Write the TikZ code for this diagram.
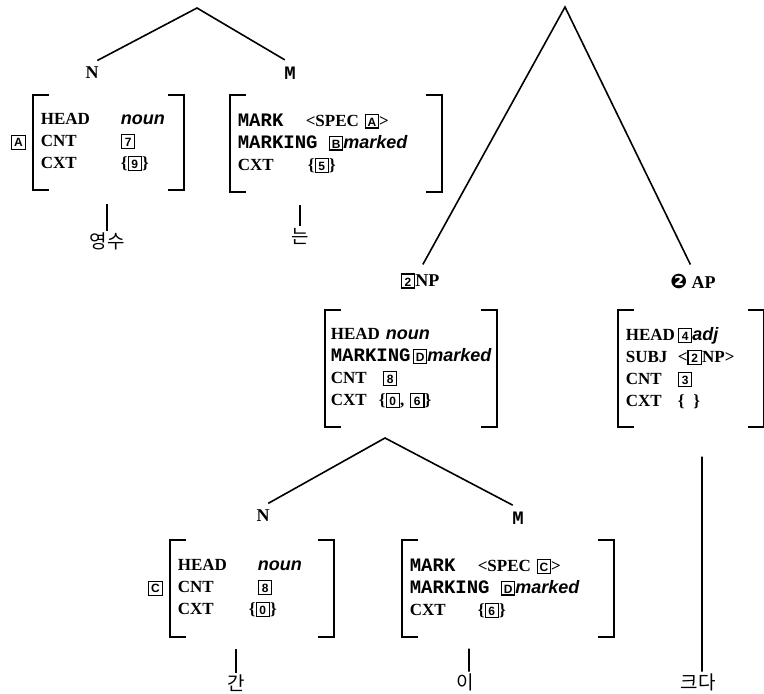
\documentclass[tikz,border=0pt]{standalone}
\usepackage{fontspec}
\setmainfont{Liberation Serif}
\newfontfamily\monof{Liberation Mono}
\newfontfamily\sansf{Liberation Sans}
\newfontfamily\kor{Noto Sans CJK KR}
\newfontfamily\dejavu{DejaVu Sans}
\usetikzlibrary{calc,positioning}

\newcommand{\tg}[1]{{\setlength{\fboxsep}{1bp}\setlength{\fboxrule}{1.3bp}\fbox{\sansf\bfseries\fontsize{12bp}{12bp}\selectfont\makebox[10bp]{\rule{0pt}{10.5bp}#1}}}}
\newcommand{\val}[1]{{\sansf\bfseries\itshape\fontsize{18bp}{22bp}\selectfont #1}}
\newcommand{\mk}[1]{{\monof\bfseries\fontsize{19bp}{22bp}\selectfont #1}}
\newcommand{\feat}[2]{\makebox[#1][l]{#2}}
\newcommand{\avmbrackets}[1]{%
	\draw[brk] ([xshift=16bp]#1.north west) -- (#1.north west) -- (#1.south west) -- ([xshift=16bp]#1.south west);
	\draw[brk] ([xshift=-16bp]#1.north east) -- (#1.north east) -- (#1.south east) -- ([xshift=-16bp]#1.south east);}

\begin{document}
\begin{tikzpicture}[x=1bp,y=-1bp,line width=1.6bp,
	avm/.style={anchor=north west,inner xsep=7bp,inner ysep=0pt,align=left,font=\bfseries\fontsize{17bp}{22bp}\selectfont},
	brk/.style={line width=1.8bp},
	lbl/.style={inner sep=3bp,font=\bfseries\fontsize{18bp}{18bp}\selectfont},
	word/.style={inner sep=1bp,font=\kor\fontsize{19bp}{19bp}\selectfont},
	tagbox/.style={draw,line width=1.3bp,inner sep=1bp,minimum size=14bp,font=\sansf\bfseries\fontsize{12bp}{12bp}\selectfont}
	]
	\useasboundingbox (0,0) rectangle (764,694);

	% 영수는
	\coordinate (top1) at (197,8);
	\node[lbl] (n1) at (92,73) {N};
	\node[lbl] (m1) at (290,73) {\mk{M}};
	\draw[shorten <=6bp,shorten >=6bp] (n1.north) -- (top1) -- (m1.north);

	\node[avm,text width=135bp,minimum height=93bp] (avmA) at (33,95) {\feat{80bp}{HEAD}\val{noun}\\\feat{80bp}{CNT}\tg{7}\\\feat{80bp}{CXT}\{\tg{9}\}};
	\avmbrackets{avmA}
	\node[tagbox,left=7bp of avmA] (tagA) {A};
	\node[avm,text width=196bp,minimum height=95bp] (avmB) at (230,95) {\feat{68bp}{\mk{MARK}}<SPEC \tg{A}>\\\feat{91bp}{\mk{MARKING}}\tg{B}\val{marked}\\\feat{70bp}{CXT}\{\tg{5}\}};
	\avmbrackets{avmB}

	\node[word] (w1) at (107,241) {영수};
	\node[word] (w2) at (300,236) {는};
	\draw (w1.north) -- ($(avmA.south -| w1.north)+(0,14)$);
	\draw (w2.north) -- ($(avmB.south -| w2.north)+(0,13)$);

	% 간이 크다
	\coordinate (top2) at (565,7);
	\node[lbl] (np) at (420,281) {\tg{2}NP};
	\node[lbl] (ap) at (693,281) {{\dejavu\fontsize{20bp}{20bp}\selectfont ❷} AP};
	\draw[shorten <=6bp,shorten >=6bp] (np.north) -- (top2) -- (ap.north);

	\node[avm,inner xsep=5bp,text width=160bp,minimum height=115bp] (avmNP) at (325,310) {\feat{55bp}{HEAD}\val{noun}\\\feat{82bp}{\mk{MARKING}}\tg{D}\val{marked}\\\feat{52bp}{CNT}\tg{8}\\\feat{48bp}{CXT}\{\tg{0}, \tg{6}\}};
	\avmbrackets{avmNP}
	\node[avm,text width=130bp,minimum height=115bp] (avmAP) at (618,310) {\feat{52bp}{HEAD}\tg{4}\val{adj}\\\feat{52bp}{SUBJ}<\tg{2}NP>\\\feat{52bp}{CNT}\tg{3}\\\feat{52bp}{CXT}\{\hspace{9bp}\}};
	\avmbrackets{avmAP}

	\coordinate (top3) at (385,438);
	\node[lbl] (n2) at (263,516) {N};
	\node[lbl] (m2) at (518,518) {\mk{M}};
	\draw[shorten <=6bp,shorten >=6bp] (n2.north) -- (top3) -- (m2.north);

	\node[avm,text width=148bp,minimum height=95bp] (avmC) at (170,540) {\feat{80bp}{HEAD}\val{noun}\\\feat{80bp}{CNT}\tg{8}\\\feat{71bp}{CXT}\{\tg{0}\}};
	\avmbrackets{avmC}
	\node[tagbox,left=7bp of avmC] (tagC) {C};
	\node[avm,text width=196bp,minimum height=95bp] (avmD) at (402,540) {\feat{68bp}{\mk{MARK}}<SPEC \tg{C}>\\\feat{91bp}{\mk{MARKING}}\tg{D}\val{marked}\\\feat{68bp}{CXT}\{\tg{6}\}};
	\avmbrackets{avmD}

	\node[word] (w3) at (236,683) {간};
	\node[word] (w4) at (465,682) {이};
	\node[word] (w5) at (698,682) {크다};
	\draw (w3.north) -- ($(avmC.south -| w3.north)+(0,12)$);
	\draw ([xshift=4bp]w4.north) -- ($(avmD.south -| w4.north)+(4,12)$);
	\draw ([xshift=4bp]w5.north) -- ($(avmAP.south -| w5.north)+(4,30)$);

\end{tikzpicture}
\end{document}
